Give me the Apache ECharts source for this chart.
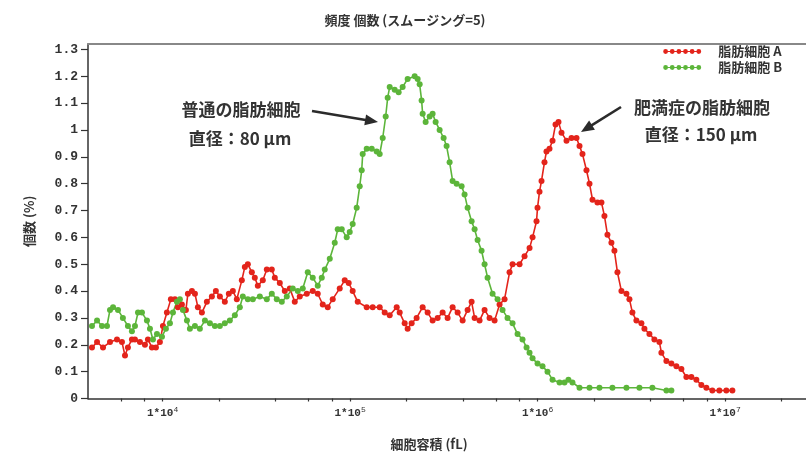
<!DOCTYPE html>
<html><head><meta charset="utf-8">
<script src="https://cdn.jsdelivr.net/npm/echarts@6/dist/echarts.min.js"></script>
<style>html,body{margin:0;padding:0;background:#fff}#c{width:806px;height:453px}</style>
</head><body><div id="c"></div>
<script>
// ---- data (cell volume in fL, percent of count) ----
const volumeA = [4200,4470,4810,5240,5710,6070,6300,6530,6860,7120,7570,8050,8350,8770,9210,9670,
 10040,10540,11070,11630,12060,12670,13310,13640,14330,14870,15420,16200,17220,18310,19230,20200,21470,22550,23690,24880,
 26450,27450,28480,29910,31020,32190,34220,35950,38220,39660,42170,44830,47670,50680,53880,58730,63200,67200,71450,75970,
 80770,88030,93590,98290,103200,109800,122600,131900,143800,152900,162600,177200,183800,195400,202700,212900,226300,243700,
 259100,275400,292900,311400,331100,352100,374400,398100,423300,444600,461200,490300,521300,554300,589400,626700,666300,
 708500,735000,801000,851700,905600,939600,986700,998800,1023600,1049000,1088000,1115000,1157000,1201000,1246000,1292000,
 1341000,1426000,1516000,1612000,1673000,1735000,1822000,1891000,1962000,2085000,2190000,2272000,2357000,2475000,2568000,
 2665000,2799000,2976000,3088000,3203000,3364000,3577000,3712000,3947000,4196000,4462000,4573000,4862000,5169000,5496000,
 5844000,6213000,6607000,7024000,7468000,7941000,8548000,9316000,10150000,10930000];
const percentA = [0.19,0.21,0.19,0.21,0.22,0.21,0.16,0.19,0.22,0.22,0.21,0.20,0.22,0.19,0.19,0.21,
 0.27,0.32,0.37,0.37,0.34,0.35,0.33,0.39,0.40,0.39,0.34,0.32,0.36,0.38,0.40,0.38,0.36,0.39,0.40,0.37,
 0.44,0.49,0.50,0.47,0.45,0.42,0.44,0.48,0.48,0.45,0.43,0.40,0.41,0.36,0.38,0.39,0.40,0.39,0.35,0.34,
 0.37,0.41,0.44,0.43,0.40,0.36,0.34,0.34,0.34,0.32,0.31,0.34,0.32,0.28,0.26,0.28,0.30,0.34,
 0.32,0.29,0.30,0.32,0.30,0.34,0.32,0.29,0.33,0.36,0.30,0.29,0.33,0.30,0.29,0.35,0.37,
 0.47,0.50,0.50,0.53,0.56,0.60,0.66,0.71,0.77,0.81,0.88,0.92,0.93,0.96,1.02,1.03,
 0.99,0.96,0.97,0.97,0.94,0.91,0.85,0.80,0.74,0.73,0.73,0.68,0.61,0.58,0.55,
 0.47,0.40,0.39,0.37,0.32,0.29,0.28,0.26,0.24,0.22,0.21,0.17,0.14,0.13,0.12,
 0.11,0.08,0.08,0.07,0.05,0.04,0.03,0.03,0.03,0.03];
const volumeB = [4200,4470,4750,5050,5240,5440,5780,6140,6530,6860,7120,7390,7760,8250,8560,8880,9330,9920,
 10410,10940,11350,11920,12360,12830,13480,13980,14870,15800,16810,17870,19000,20200,21470,22830,24280,25810,
 26780,28480,30280,32990,35950,38220,40640,43210,45940,49450,52590,55910,59450,63200,67200,70610,73250,77880,
 82790,85890,90210,95910,99520,103200,108400,112500,115300,116700,122600,130400,138600,143800,149200,154800,
 158600,162600,172900,181500,190600,202700,221000,229200,234900,240600,243700,252800,265600,275400,285800,300200,
 315300,327000,339300,352100,369800,393200,407800,423300,444600,461200,478500,502500,521300,541000,575100,611500,
 650100,691100,735000,781500,830800,873000,905600,939600,999000,1062000,1129000,1201000,1309000,1391000,1460000,
 1534000,1673000,1891000,2137000,2506000,2976000,3491000,4094000,4862000,5169000];
const percentB = [0.27,0.29,0.27,0.27,0.33,0.34,0.33,0.30,0.27,0.25,0.27,0.32,0.32,0.29,0.26,0.22,0.24,0.23,
 0.26,0.28,0.32,0.36,0.37,0.33,0.29,0.26,0.27,0.26,0.29,0.28,0.27,0.27,0.28,0.29,0.31,0.34,
 0.38,0.37,0.37,0.38,0.37,0.39,0.37,0.36,0.38,0.41,0.40,0.41,0.47,0.45,0.42,0.45,0.48,0.52,
 0.58,0.63,0.63,0.60,0.62,0.65,0.71,0.79,0.85,0.91,0.93,0.93,0.92,0.91,0.97,1.05,
 1.12,1.16,1.15,1.14,1.16,1.19,1.20,1.19,1.17,1.11,1.06,1.03,1.05,1.06,1.03,1.00,
 0.97,0.94,0.88,0.81,0.80,0.79,0.76,0.71,0.66,0.63,0.59,0.55,0.50,0.45,0.39,0.37,
 0.33,0.30,0.28,0.24,0.22,0.19,0.17,0.15,0.13,0.12,0.10,0.07,0.06,0.06,0.07,
 0.06,0.04,0.04,0.04,0.04,0.04,0.04,0.04,0.03,0.03];
const seriesNames = ['脂肪細胞 A', '脂肪細胞 B'];
const xLabelTicks = [1e4, 1e5, 1e6, 1e7];
const xAllTicks = [6000,8000,1e4,2e4,4e4,6e4,8e4,1e5,2e5,4e5,6e5,8e5,1e6,2e6,4e6,6e6,8e6,1e7,2e7];
const yTicks = [0,0.1,0.2,0.3,0.4,0.5,0.6,0.7,0.8,0.9,1.0,1.1,1.2,1.3];
const titleText = '頻度 個数 (スムージング=5)';
const xName = '細胞容積 (fL)';
const yName = '個数 (%)';
const noteNormal = ['普通の脂肪細胞', '直径：80 μm'];
const noteObese = ['肥満症の脂肪細胞', '直径：150 μm'];

const pairsA = volumeA.map((v, i) => [v, percentA[i]]);
const pairsB = volumeB.map((v, i) => [v, percentB[i]]);

let iconPath = 'path://M1,2.6L37,2.6L37,3.4L1,3.4Z';
for (let i = 0; i < 6; i++) {
  const cx = 2.5 + i * 6.6;
  iconPath += `M${cx - 2.4},3A2.4,2.4 0 1 1 ${cx + 2.4},3A2.4,2.4 0 1 1 ${cx - 2.4},3Z`;
}

function arrow(x1, y1, x2, y2) {
  const dx = x2 - x1, dy = y2 - y1, L = Math.hypot(dx, dy);
  const ux = dx / L, uy = dy / L, hl = 13, hw = 5.5;
  const bx = x2 - ux * hl, by = y2 - uy * hl;
  return [
    {type: 'line', shape: {x1, y1, x2: bx + ux * 2, y2: by + uy * 2}, style: {stroke: '#2b2b2b', lineWidth: 2.6}},
    {type: 'polygon', shape: {points: [[x2, y2], [bx - uy * hw, by + ux * hw], [bx + uy * hw, by - ux * hw]]}, style: {fill: '#2b2b2b'}}
  ];
}
const CJK = '"Noto Sans CJK JP", "Noto Sans", sans-serif';
const noteStyle = (t, x, y) => ({type: 'text', x, y, style: {text: t, fill: '#333', font: `bold 17px ${CJK}`, textAlign: 'center', textVerticalAlign: 'middle'}});

const chart = echarts.init(document.getElementById('c'), null, {renderer: 'canvas'});
chart.setOption({
  backgroundColor: '#fff',
  animation: false,
  title: {text: titleText, left: 400, top: 9, textAlign: 'center',
    textStyle: {fontFamily: CJK, fontSize: 13, fontWeight: 'bold', color: '#333'}},
  legend: {
    orient: 'vertical', right: 19, top: 40, itemGap: 3, itemWidth: 38, itemHeight: 6,
    icon: iconPath,
    textStyle: {fontFamily: CJK, fontSize: 13, fontWeight: 'bold', color: '#333', padding: [0, 0, 0, 12]},
    data: seriesNames
  },
  grid: {left: 88, right: 0, top: 44, bottom: 54.5, containLabel: false, outerBoundsMode: 'none',
    show: false},
  xAxis: [{
    type: 'log', logBase: 10, min: 4000, max: 2.7e7,
    name: xName, nameLocation: 'middle', nameGap: 39,
    nameTextStyle: {fontFamily: CJK, fontSize: 13, fontWeight: 'bold', color: '#333', padding: [0, 36, 0, 0]},
    axisLine: {lineStyle: {color: '#333', width: 1.5}},
    axisTick: {show: true, length: 3, customValues: xAllTicks, lineStyle: {color: '#333', width: 1.2}},
    axisLabel: {customValues: xLabelTicks, margin: 7, color: '#333',
      formatter: v => '{b|1*10}{s|' + Math.round(Math.log10(v)) + '}',
      rich: {b: {fontFamily: '"Liberation Mono", monospace', fontSize: 11, fontWeight: 'bold', color: '#333'},
             s: {fontFamily: '"Liberation Mono", monospace', fontSize: 8, color: '#333', padding: [0, 0, 7, 0]}}},
    splitLine: {show: false}, minorTick: {show: false}
  }, {
    type: 'value', position: 'top', min: 0, max: 1,
    axisLine: {show: true, lineStyle: {color: '#888', width: 2.2}},
    axisTick: {show: false}, axisLabel: {show: false}, splitLine: {show: false}
  }],
  yAxis: {
    type: 'value', min: 0, max: 1.32,
    name: yName, nameLocation: 'middle', nameRotate: 90, nameGap: 52,
    nameTextStyle: {fontFamily: CJK, fontSize: 13, fontWeight: 'bold', color: '#333'},
    axisLine: {show: true, lineStyle: {color: '#333', width: 1.5}},
    axisTick: {show: true, length: 7, customValues: yTicks, lineStyle: {color: '#333', width: 1.2}},
    axisLabel: {customValues: yTicks, margin: 10, color: '#333',
      fontFamily: '"Liberation Mono", monospace', fontSize: 13, fontWeight: 'bold',
      formatter: v => String(Math.round(v * 10) / 10)},
    splitLine: {show: false}
  },
  series: [{
    name: seriesNames[0], type: 'line', data: pairsA, xAxisIndex: 0,
    symbol: 'circle', symbolSize: 6, showSymbol: true,
    itemStyle: {color: '#e3241b'}, lineStyle: {color: '#e3241b', width: 1.6}
  }, {
    name: seriesNames[1], type: 'line', data: pairsB, xAxisIndex: 0,
    symbol: 'circle', symbolSize: 6, showSymbol: true,
    itemStyle: {color: '#5cb53a'}, lineStyle: {color: '#5cb53a', width: 1.6}
  }],
  graphic: [
    noteStyle(noteNormal[0], 241, 110),
    noteStyle(noteNormal[1], 240, 139),
    noteStyle(noteObese[0], 702, 108),
    noteStyle(noteObese[1], 701, 135),
    ...arrow(312, 111, 378, 122),
    ...arrow(621, 107, 581, 132)
  ]
});
</script></body></html>
